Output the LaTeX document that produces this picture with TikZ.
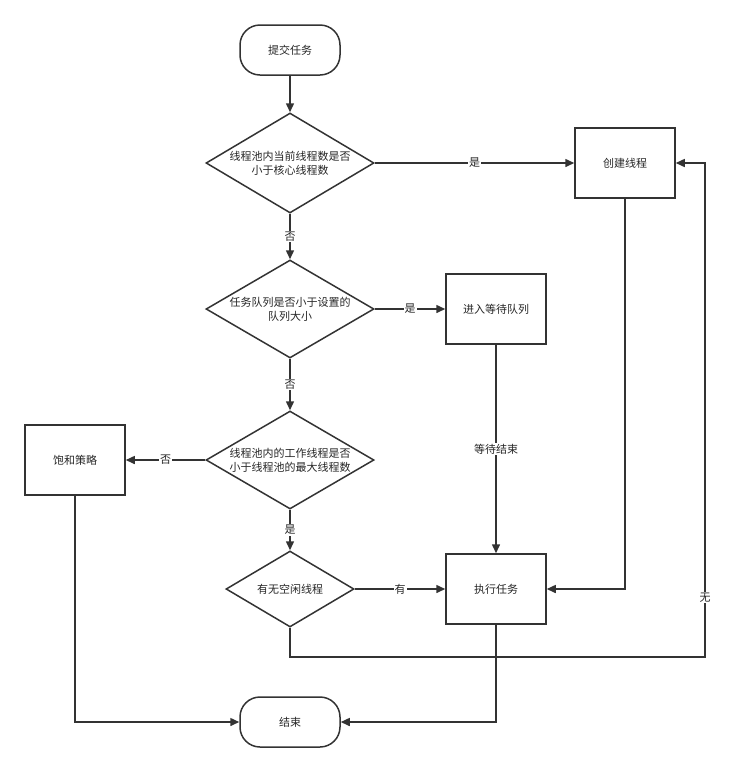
\documentclass[tikz,border=0pt]{standalone}
\usepackage{fontspec}
\newfontfamily\cjk{Noto Sans CJK SC}
\usetikzlibrary{shapes.geometric,arrows.meta}
\begin{document}
\begin{tikzpicture}[x=1pt,y=-1pt,
  every node/.style={font=\cjk\fontsize{11}{14}\selectfont,text=black!85},
  box/.style={draw=black!80,line width=1.5pt,minimum width=100pt,minimum height=70pt,inner sep=0},
  term/.style={draw=black!80,line width=1.5pt,minimum width=100pt,minimum height=50pt,rounded corners=20pt,inner sep=0},
  dia/.style={draw=black!80,line width=1.5pt,diamond,inner sep=0,minimum width=#1},
  ln/.style={draw=black!80,line width=1.5pt,-{Triangle[length=9pt,width=8pt]}},
  pl/.style={draw=black!80,line width=1.5pt},
  lab/.style={fill=white,inner sep=1pt}]
\useasboundingbox (0,0) rectangle (730,772);
\node[term] (start) at (290,50) {提交任务};
\node[dia=168pt,minimum height=100pt,label={[align=center,font=\cjk\fontsize{11}{14}\selectfont,text=black!85]center:线程池内当前线程数是否\\小于核心线程数}] (d1) at (290,163) {};
\node[box] (create) at (625,163) {创建线程};
\node[dia=168pt,minimum height=98pt,label={[align=center,font=\cjk\fontsize{11}{14}\selectfont,text=black!85]center:任务队列是否小于设置的\\队列大小}] (d2) at (290,309) {};
\node[box] (wait) at (496,309) {进入等待队列};
\node[dia=168pt,minimum height=98pt,label={[align=center,font=\cjk\fontsize{11}{14}\selectfont,text=black!85]center:线程池内的工作线程是否\\小于线程池的最大线程数}] (d3) at (290,460) {};
\node[box] (sat) at (75,460) {饱和策略};
\node[dia=128pt,minimum height=76pt,label={[font=\cjk\fontsize{11}{14}\selectfont,text=black!85]center:有无空闲线程}] (d4) at (290,589) {};
\node[box] (exec) at (496,589) {执行任务};
\node[term] (end) at (290,722) {结束};
\coordinate (c1) at (705,657);
\draw[ln] (start) -- (d1);
\draw[ln] (d1.south) -- node[lab]{否} (d2.north);
\draw[ln] (d1.east) -- node[lab,pos=0.5]{是} (create.west);
\draw[ln] (d2.east) -- node[lab]{是} (wait.west);
\draw[ln] (d2.south) -- node[lab]{否} (d3.north);
\draw[ln] (d3.west) -- node[lab]{否} (sat.east);
\draw[ln] (d3.south) -- node[lab]{是} (d4.north);
\draw[ln] (d4.east) -- node[lab]{有} (exec.west);
\draw[ln] (wait.south) -- node[lab]{等待结束} (exec.north);
\draw[ln] (create.south) |- (exec.east);
\draw[ln] (d4.south) |- (c1) -- node[lab,pos=0.12]{无} (c1 |- create.east) -- (create.east);
\draw[ln] (exec.south) |- (end.east);
\draw[ln] (sat.south) |- (end.west);
\end{tikzpicture}
\end{document}
